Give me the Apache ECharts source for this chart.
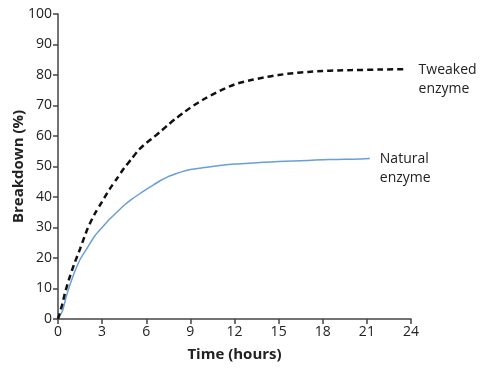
<!DOCTYPE html>
<html><head><meta charset="utf-8">
<script src="https://cdn.jsdelivr.net/npm/echarts@6/dist/echarts.min.js"></script>
<style>html,body{margin:0;padding:0;background:#fff}#c{width:500px;height:368px}</style>
</head><body><div id="c"></div>
<script>
var naturalTime = [0,0.3,0.6,1,1.5,2,2.5,3,3.5,4,4.5,5,5.5,6,6.5,7,7.5,8,8.5,9,10,11,12,13,14,15,16,17,18,19,20,21.2];
var naturalVals = [0,2.6,8,13.8,19.5,23.4,27.2,30,32.7,35,37.3,39.2,40.9,42.5,44,45.5,46.7,47.6,48.4,49,49.7,50.3,50.8,51.1,51.4,51.6,51.8,52,52.2,52.3,52.4,52.6];
var tweakedTime = [0,0.3,0.5,0.8,1.1,1.5,2,2.5,3,3.5,4,4.5,5,5.5,6,6.5,7,7.5,8,8.5,9,10,11,12,13,14,15,16,17,18,19,20,22,23.7];
var tweakedVals = [0,5,9,13.8,18,23,29.5,34.5,38.5,42.5,46,49.5,52.5,55.5,57.7,59.6,61.6,63.7,65.7,67.5,69.3,72.3,74.8,76.9,78.2,79.2,80,80.6,81,81.3,81.5,81.6,81.8,81.9];
var xTicks = [0,3,6,9,12,15,18,21,24];
var yTicks = [0,10,20,30,40,50,60,70,80,90,100];

function pairs(t, v){ return t.map(function(x,i){return [x, v[i]];}); }
var font = '"Open Sans", sans-serif';
var chart = echarts.init(document.getElementById('c'), null, {renderer:'canvas'});
chart.setOption({
  animation:false,
  grid:{left:58, top:14, right:89, bottom:49, outerBoundsMode:'none', containLabel:false},
  xAxis:{type:'value', min:xTicks[0], max:xTicks[xTicks.length-1], interval:3,
    name:'Time (hours)', nameLocation:'middle', nameGap:28, nameMoveOverlap:false,
    nameTextStyle:{fontFamily:font, fontSize:15, fontWeight:'bold', color:'#222'},
    axisLine:{lineStyle:{color:'#444', width:1.5}},
    axisTick:{show:true, length:5, lineStyle:{color:'#444', width:1.5}},
    axisLabel:{fontFamily:font, fontSize:14, color:'#222', margin:6},
    splitLine:{show:false}},
  yAxis:{type:'value', min:yTicks[0], max:yTicks[yTicks.length-1], interval:10,
    name:'Breakdown (%)', nameLocation:'middle', nameGap:32, nameMoveOverlap:false,
    nameTextStyle:{fontFamily:font, fontSize:15, fontWeight:'bold', color:'#222'},
    axisLine:{show:true, lineStyle:{color:'#444', width:1.5}},
    axisTick:{show:true, length:5, lineStyle:{color:'#444', width:1.5}},
    axisLabel:{fontFamily:font, fontSize:14, color:'#222', margin:6},
    splitLine:{show:false}},
  series:[
    {type:'line', data:pairs(naturalTime, naturalVals), showSymbol:false, smooth:0.25,
     lineStyle:{color:'#6a9ed6', width:1.5},
     endLabel:{show:true, formatter:'Natural\nenzyme', fontFamily:font, fontSize:14, color:'#222', distance:10, lineHeight:19, offset:[0,10]}},
    {type:'line', data:pairs(tweakedTime, tweakedVals), showSymbol:false, smooth:0.25,
     lineStyle:{color:'#111', width:2.5, type:[6,4]},
     endLabel:{show:true, formatter:'Tweaked\nenzyme', fontFamily:font, fontSize:14, color:'#222', distance:12, lineHeight:19, offset:[0,10]}}
  ]
});
</script></body></html>
